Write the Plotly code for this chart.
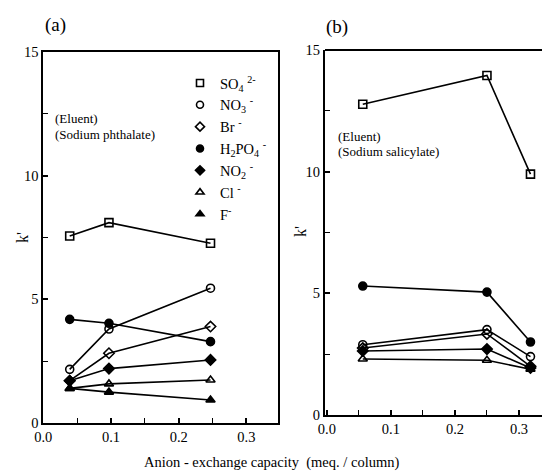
import plotly.graph_objects as go

# ---- data ----
x_a = [0.039, 0.097, 0.247]
so4_a = [7.56, 8.10, 7.27]
no3_a = [2.17, 3.80, 5.45]
br_a = [1.71, 2.82, 3.90]
h2po4_a = [4.19, 4.03, 3.29]
no2_a = [1.71, 2.20, 2.55]
cl_a = [1.40, 1.58, 1.74]
f_a = [1.40, 1.25, 0.93]

x_b = [0.056, 0.250, 0.318]
so4_b = [12.77, 13.95, 9.90]
h2po4_b = [5.30, 5.05, 3.00]
no3_b = [2.89, 3.51, 2.40]
br_b = [2.75, 3.33, 2.00]
no2_b = [2.63, 2.71, 1.93]
cl_b = [2.30, 2.25, 1.88]

x_ticks = [0.0, 0.1, 0.2, 0.3]
x_tick_labels = ["0.0", "0.1", "0.2", "0.3"]
y_ticks = [0, 5, 10, 15]

ion_names = ["SO<sub>4</sub> <sup>2-</sup>", "NO<sub>3</sub> <sup>-</sup>", "Br <sup>-</sup>",
             "H<sub>2</sub>PO<sub>4</sub> <sup>-</sup>", "NO<sub>2</sub> <sup>-</sup>",
             "Cl <sup>-</sup>", "F<sup>-</sup>"]
symbols = ["square-open", "circle-open", "diamond-open", "circle", "diamond",
           "triangle-up-open", "triangle-up"]

FONT = "Liberation Serif"
W, H = 542, 474

fig = go.Figure()

series_a = [so4_a, no3_a, br_a, h2po4_a, no2_a, cl_a, f_a]
for ys, sym in zip(series_a, symbols):
    fig.add_trace(go.Scatter(x=x_a, y=ys, mode="lines+markers", xaxis="x", yaxis="y",
                             line=dict(color="black", width=1.6),
                             marker=dict(symbol=sym, size=8, color="black",
                                         line=dict(color="black", width=1.6)),
                             showlegend=False))

series_b = [so4_b, no3_b, br_b, h2po4_b, no2_b, cl_b]
for ys, sym in zip(series_b, symbols[:6]):
    fig.add_trace(go.Scatter(x=x_b, y=ys, mode="lines+markers", xaxis="x2", yaxis="y2",
                             line=dict(color="black", width=1.6),
                             marker=dict(symbol=sym, size=8, color="black",
                                         line=dict(color="black", width=1.6)),
                             showlegend=False))

# legend-only entries
for name, sym in zip(ion_names, symbols):
    fig.add_trace(go.Scatter(x=[None], y=[None], mode="markers", name=name,
                             xaxis="x", yaxis="y",
                             marker=dict(symbol=sym, size=7, color="black",
                                         line=dict(color="black", width=1.6))))

def px_x(p):
    return p / W

def px_y(p):
    return 1 - p / H

axis_common = dict(showline=True, linecolor="black", linewidth=2, ticks="inside",
                   tickcolor="black", tickwidth=1.5, ticklen=5, showgrid=False,
                   zeroline=False, automargin=False,
                   tickfont=dict(family=FONT, size=14.5, color="black"))
minor_x = dict(dtick=0.05, tick0=0, ticks="inside", ticklen=5, tickwidth=1.2, tickcolor="black")
minor_y = dict(dtick=2.5, tick0=0, ticks="inside", ticklen=5, tickwidth=1.2, tickcolor="black")

fig.update_layout(
    width=W, height=H, margin=dict(l=0, r=0, t=0, b=0, pad=0), autosize=False,
    paper_bgcolor="white", plot_bgcolor="white",
    font=dict(family=FONT, color="black"),
    xaxis=dict(domain=[px_x(43.3), px_x(278)], range=[0, 0.3467], anchor="y",
               tickvals=x_ticks, ticktext=x_tick_labels, mirror=True, minor=minor_x,
               **axis_common),
    yaxis=dict(domain=[px_y(423), px_y(52)], range=[0, 15], anchor="x",
               tickvals=y_ticks, mirror=True, minor=minor_y, **axis_common),
    xaxis2=dict(domain=[px_x(325), 1.0], range=[-0.003, 0.336], anchor="y2",
                tickvals=x_ticks, ticktext=x_tick_labels, mirror=False, minor=minor_x,
                **axis_common),
    yaxis2=dict(domain=[px_y(415), px_y(50)], range=[0, 15], anchor="x2",
                tickvals=y_ticks, mirror=False, minor=minor_y, **axis_common),
    legend=dict(x=px_x(180), y=px_y(67), xanchor="left", yanchor="top",
                bgcolor="rgba(0,0,0,0)", font=dict(family=FONT, size=14.5, color="black"),
                itemwidth=30, tracegroupgap=0),
)

# top border for panel (b)
fig.add_shape(type="line", xref="paper", yref="paper", x0=px_x(325), x1=1.0,
              y0=px_y(50), y1=px_y(50), line=dict(color="black", width=2))

def note(text, xx, yy, size, xanchor="center", angle=0):
    fig.add_annotation(text=text, x=px_x(xx), y=px_y(yy), xref="paper", yref="paper",
                       xanchor=xanchor, yanchor="middle", showarrow=False, textangle=angle,
                       font=dict(family=FONT, size=size, color="black"))

note("(a)", 55, 25, 19)
note("(b)", 337, 27, 19)
note("(Eluent)", 53, 119, 13, xanchor="left")
note("(Sodium phthalate)", 53, 134, 13, xanchor="left")
note("(Eluent)", 336, 136, 13, xanchor="left")
note("(Sodium salicylate)", 336, 151, 13, xanchor="left")
note("k'", 22, 238, 16, angle=-90)
note("k'", 300, 232, 16, angle=-90)
note("Anion - exchange capacity  (meq. / column)", 271, 462, 14.5)

fig.write_html("out.html", config={"displayModeBar": False},
               post_script="document.body.style.margin='0';document.body.style.overflow='hidden';")
